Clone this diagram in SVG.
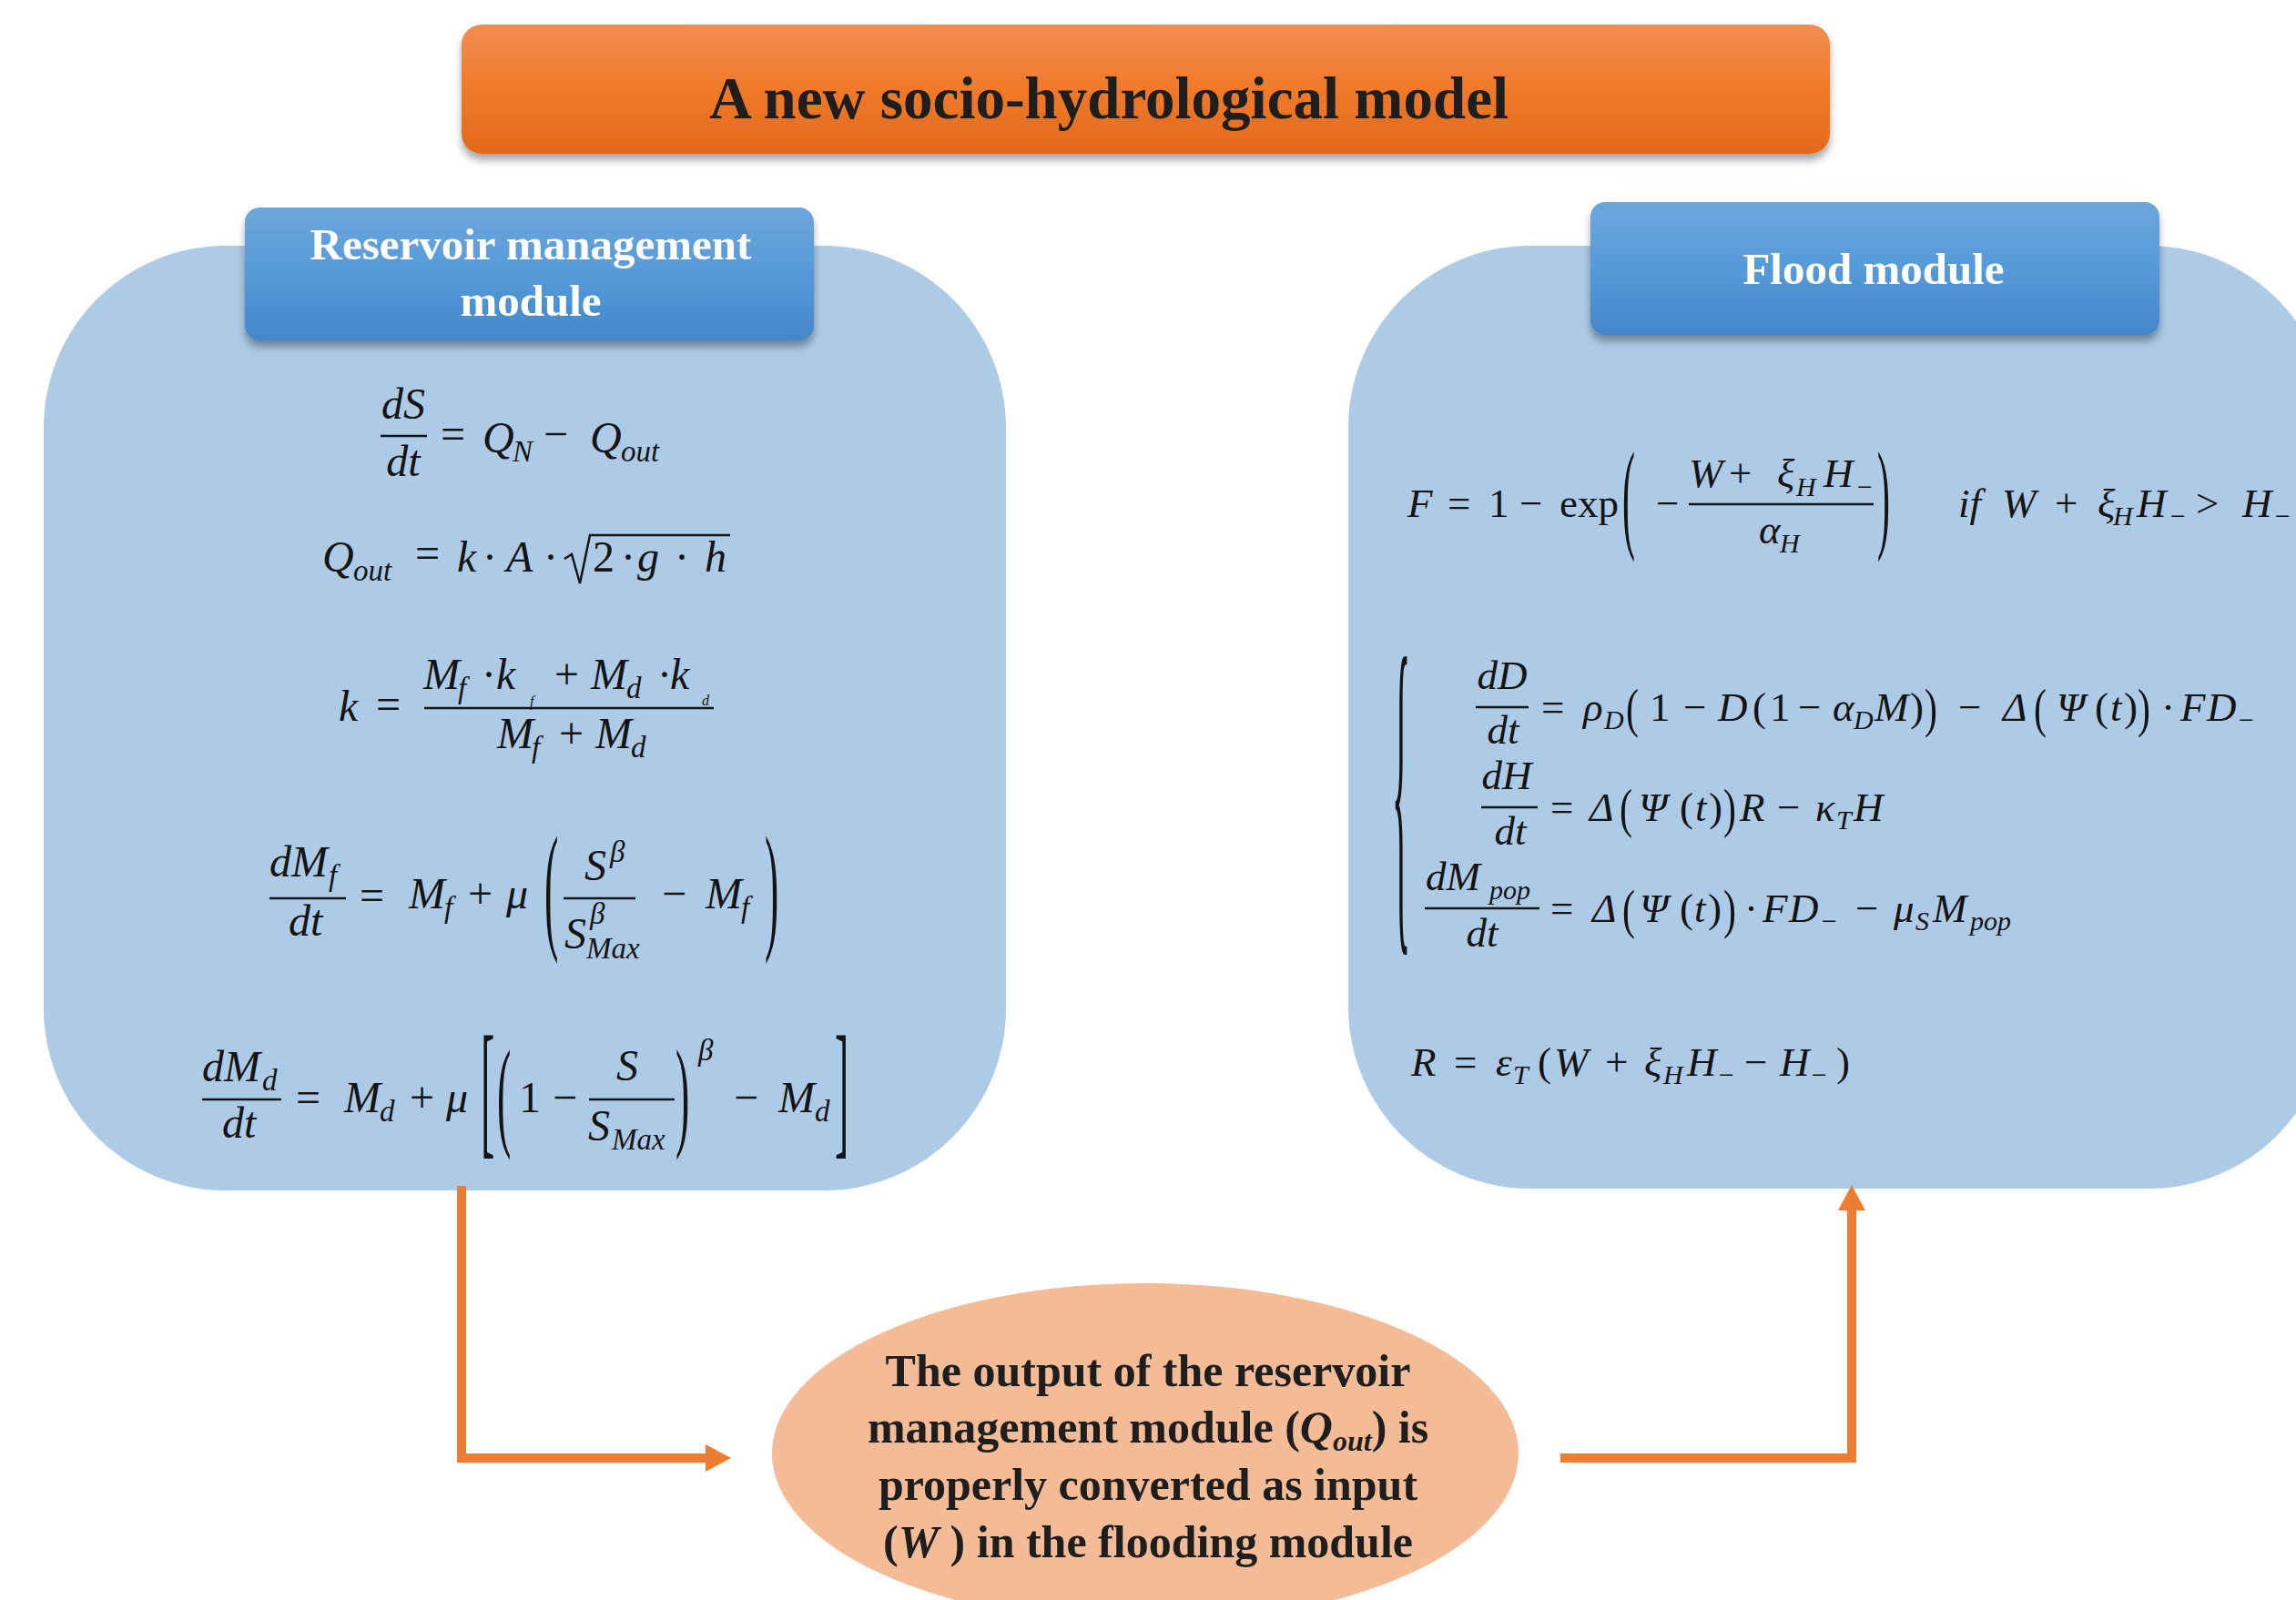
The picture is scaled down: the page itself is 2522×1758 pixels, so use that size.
<svg xmlns="http://www.w3.org/2000/svg" width="2522" height="1758" viewBox="0 0 2522 1758">
<defs>
<linearGradient id="gOrange" x1="0" y1="0" x2="0" y2="1">
<stop offset="0" stop-color="#F28D52"/>
<stop offset="0.5" stop-color="#F07A2A"/>
<stop offset="1" stop-color="#E2691A"/>
</linearGradient>
<linearGradient id="gBlue" x1="0" y1="0" x2="0" y2="1">
<stop offset="0" stop-color="#6EA6DC"/>
<stop offset="0.5" stop-color="#559AD9"/>
<stop offset="1" stop-color="#4387C8"/>
</linearGradient>
<filter id="shadow" x="-5%" y="-10%" width="110%" height="130%">
<feDropShadow dx="0" dy="7" stdDeviation="4" flood-color="#000" flood-opacity="0.35"/>
</filter>
<marker id="arrow" viewBox="0 0 28 30" refX="0" refY="15" markerWidth="28" markerHeight="30" markerUnits="userSpaceOnUse" orient="auto">
<path d="M0,0 L28,15 L0,30 z" fill="#ED7D31"/>
</marker>
<style>
.panel { fill:#ADCBE7; }
.hdr { fill:url(#gBlue); filter:url(#shadow); }
.hdrt { font-family:"Liberation Serif","Times New Roman",serif; font-weight:bold; font-size:49px; fill:#FFFFFF; text-anchor:middle; }
.t { font-family:"Liberation Serif","Times New Roman",serif; fill:#141414; }
.i { font-style:italic; }
.a { font-size:48px; }
.as { font-size:33px; }
.p { font-size:46px; }
.b { font-size:45px; }
.bs { font-size:30px; }
.q { font-size:42px; }
.bar { stroke:#141414; stroke-width:2.5; fill:none; }
.conn { stroke:#ED7D31; stroke-width:10; fill:none; }
.et { font-family:"Liberation Serif","Times New Roman",serif; font-weight:bold; font-size:50px; fill:#1E1E1E; text-anchor:middle; }
</style>
</defs>
<rect width="2522" height="1758" fill="#FFFFFF"/>

<g id="title">
<rect x="507" y="27" width="1503" height="142" rx="22" fill="url(#gOrange)" filter="url(#shadow)"/>
<text x="1218" y="130" font-family="Liberation Serif, Times New Roman, serif" font-weight="bold" font-size="65" fill="#1E1E1E" text-anchor="middle">A new socio-hydrological model</text>
</g>

<g id="reservoir-module">
<rect class="panel" x="48" y="270" width="1057" height="1038" rx="200" ry="200"/>
<rect class="hdr" x="269" y="228" width="625" height="146" rx="16"/>
<text class="hdrt" x="583" y="285">Reservoir management</text>
<text class="hdrt" x="583" y="347">module</text>

<!-- eq1 -->
<text class="t i a" x="443" y="460" text-anchor="middle">dS</text>
<line class="bar" x1="418" y1="479" x2="469" y2="479"/>
<text class="t i a" x="443" y="523" text-anchor="middle">dt</text>
<text class="t a" x="484" y="493">=</text>
<text class="t i a" y="497"><tspan x="530">Q</tspan><tspan class="as" x="563" y="507">N</tspan></text>
<text class="t a" x="597" y="493">−</text>
<text class="t i a" y="497"><tspan x="648">Q</tspan><tspan class="as" x="682" y="507">out</tspan></text>

<!-- eq2 -->
<text class="t i a" y="628"><tspan x="354">Q</tspan><tspan class="as" x="388" y="638">out</tspan></text>
<text class="t a" x="456" y="624">=</text>
<text class="t i a" x="502" y="628">k</text>
<text class="t a" x="530" y="628">·</text>
<text class="t i a" x="556" y="628">A</text>
<text class="t a" x="597" y="628">·</text>
<path class="bar" d="M620,614 L628,609 L637,641 L648,588 L802,588"/>
<text class="t a" x="651" y="628">2</text>
<text class="t a" x="682" y="628">·</text>
<text class="t i a" x="700" y="628">g</text>
<text class="t a" x="741" y="628">·</text>
<text class="t i a" x="774" y="628">h</text>

<!-- eq3 -->
<text class="t i a" x="372" y="792">k</text>
<text class="t a" x="413" y="790">=</text>
<line class="bar" x1="466" y1="778" x2="784" y2="778"/>
<text class="t i a" y="757"><tspan x="465">M</tspan><tspan class="as" x="503" y="767">f</tspan></text>
<text class="t a" x="529" y="757">·</text>
<text class="t i a" x="545" y="757">k</text>
<text class="t i" font-size="16" x="582" y="776">f</text>
<text class="t a" x="609" y="757">+</text>
<text class="t i a" y="757"><tspan x="649">M</tspan><tspan class="as" x="688" y="767">d</tspan></text>
<text class="t a" x="722" y="757">·</text>
<text class="t i a" x="736" y="757">k</text>
<text class="t i" font-size="16" x="771" y="775">d</text>
<text class="t i a" y="822"><tspan x="546">M</tspan><tspan class="as" x="584" y="832">f</tspan></text>
<text class="t a" x="614" y="822">+</text>
<text class="t i a" y="822"><tspan x="654">M</tspan><tspan class="as" x="693" y="832">d</tspan></text>

<!-- eq4 -->
<text class="t i a" y="963"><tspan x="296">dM</tspan><tspan class="as" x="361" y="973">f</tspan></text>
<line class="bar" x1="296" y1="987" x2="380" y2="987"/>
<text class="t i a" x="317" y="1028">dt</text>
<text class="t a" x="395" y="1000">=</text>
<text class="t i a" y="998"><tspan x="449">M</tspan><tspan class="as" x="488" y="1008">f</tspan></text>
<text class="t a" x="514" y="998">+</text>
<text class="t i a" x="556" y="998">μ</text>
<text class="t p" transform="translate(598,1026) scale(1,3.35)">(</text>
<text class="t i a" x="642" y="967">S</text>
<text class="t i as" x="670" y="947">β</text>
<line class="bar" x1="619" y1="987" x2="698" y2="987"/>
<text class="t i a" x="620" y="1042">S</text>
<text class="t i as" x="648" y="1015">β</text>
<text class="t i as" x="644" y="1053">Max</text>
<text class="t a" x="727" y="998">−</text>
<text class="t i a" y="998"><tspan x="775">M</tspan><tspan class="as" x="814" y="1008">f</tspan></text>
<text class="t p" transform="translate(840,1026) scale(1,3.35)">)</text>

<!-- eq5 -->
<text class="t i a" y="1188"><tspan x="222">dM</tspan><tspan class="as" x="288" y="1198">d</tspan></text>
<line class="bar" x1="222" y1="1208" x2="309" y2="1208"/>
<text class="t i a" x="244" y="1250">dt</text>
<text class="t a" x="325" y="1222">=</text>
<text class="t i a" y="1222"><tspan x="378">M</tspan><tspan class="as" x="417" y="1232">d</tspan></text>
<text class="t a" x="450" y="1222">+</text>
<text class="t i a" x="490" y="1222">μ</text>
<text class="t p" transform="translate(528,1251) scale(1,3.56)">[</text>
<text class="t p" transform="translate(546,1246) scale(1,2.9)">(</text>
<text class="t a" x="570" y="1222">1</text>
<text class="t a" x="607" y="1222">−</text>
<text class="t i a" x="677" y="1187">S</text>
<line class="bar" x1="647" y1="1208" x2="741" y2="1208"/>
<text class="t i a" x="646" y="1253">S</text>
<text class="t i as" x="672" y="1263">Max</text>
<text class="t p" transform="translate(742,1246) scale(1,2.9)">)</text>
<text class="t i as" x="767" y="1165">β</text>
<text class="t a" x="806" y="1222">−</text>
<text class="t i a" y="1222"><tspan x="855">M</tspan><tspan class="as" x="895" y="1232">d</tspan></text>
<text class="t p" transform="translate(917,1251) scale(1,3.56)">]</text>
</g>

<g id="flood-module">
<rect class="panel" x="1481" y="270" width="1079" height="1036" rx="200" ry="200"/>
<rect class="hdr" x="1747" y="222" width="625" height="146" rx="16"/>
<text class="hdrt" x="2058" y="312">Flood module</text>

<!-- F equation -->
<text class="t i b" x="1546" y="568">F</text>
<text class="t b" x="1590" y="568">=</text>
<text class="t b" x="1635" y="568">1</text>
<text class="t b" x="1669" y="568">−</text>
<text class="t b" x="1713" y="568">exp</text>
<text class="t q" transform="translate(1782,589) scale(1,3.2)">(</text>
<text class="t b" x="1819" y="568">−</text>
<text class="t i b" x="1855" y="535">W</text>
<text class="t b" x="1899" y="535">+</text>
<text class="t i b" y="535"><tspan x="1952">ξ</tspan><tspan class="bs" x="1973" y="545">H</tspan><tspan x="2003" y="535">H</tspan><tspan class="bs" x="2038" y="545">−</tspan></text>
<line class="bar" x1="1855" y1="554" x2="2058" y2="554"/>
<text class="t i b" y="597"><tspan x="1932">α</tspan><tspan class="bs" x="1955" y="607">H</tspan></text>
<text class="t q" transform="translate(2062,589) scale(1,3.2)">)</text>
<text class="t i b" y="568"><tspan x="2151">if</tspan><tspan x="2199">W</tspan></text>
<text class="t b" x="2257" y="568">+</text>
<text class="t i b" y="568"><tspan x="2304">ξ</tspan><tspan class="bs" x="2321" y="577">H</tspan><tspan x="2347" y="568">H</tspan><tspan class="bs" x="2382" y="577">−</tspan></text>
<text class="t b" x="2412" y="568">&gt;</text>
<text class="t i b" y="568"><tspan x="2463">H</tspan><tspan class="bs" x="2497" y="577">−</tspan></text>

<!-- system -->
<text class="t q" transform="translate(1529,996) scale(1,9.43)">{</text>

<text class="t i b" x="1650" y="757" text-anchor="middle">dD</text>
<line class="bar" x1="1621" y1="777" x2="1679" y2="777"/>
<text class="t i b" x="1651" y="817" text-anchor="middle">dt</text>
<text class="t b" x="1693" y="792">=</text>
<text class="t i b" y="792"><tspan x="1739">ρ</tspan><tspan class="bs" x="1762" y="801">D</tspan></text>
<text class="t q" transform="translate(1786,798) scale(1,1.4)">(</text>
<text class="t b" x="1812" y="792">1</text>
<text class="t b" x="1849" y="792">−</text>
<text class="t i b" x="1887" y="792">D</text>
<text class="t b" x="1925" y="792">(</text>
<text class="t b" x="1944" y="792">1</text>
<text class="t b" x="1975" y="792">−</text>
<text class="t i b" y="792"><tspan x="2013">α</tspan><tspan class="bs" x="2036" y="801">D</tspan><tspan x="2059" y="792">M</tspan></text>
<text class="t b" x="2098" y="792">)</text>
<text class="t q" transform="translate(2114,798) scale(1,1.4)">)</text>
<text class="t b" x="2151" y="792">−</text>
<text class="t i b" x="2200" y="792">Δ</text>
<text class="t q" transform="translate(2234,798) scale(1,1.4)">(</text>
<text class="t i b" x="2259" y="792">Ψ</text>
<text class="t b" x="2301" y="792">(</text>
<text class="t i b" x="2318" y="792">t</text>
<text class="t b" x="2333" y="792">)</text>
<text class="t q" transform="translate(2348,798) scale(1,1.4)">)</text>
<text class="t b" x="2374" y="792">·</text>
<text class="t i b" y="792"><tspan x="2395">F</tspan><tspan x="2424">D</tspan><tspan class="bs" x="2457" y="801">−</tspan></text>

<text class="t i b" x="1655" y="867" text-anchor="middle">dH</text>
<line class="bar" x1="1627" y1="887" x2="1689" y2="887"/>
<text class="t i b" x="1659" y="928" text-anchor="middle">dt</text>
<text class="t b" x="1703" y="902">=</text>
<text class="t i b" x="1746" y="902">Δ</text>
<text class="t q" transform="translate(1779,908) scale(1,1.4)">(</text>
<text class="t i b" x="1800" y="902">Ψ</text>
<text class="t b" x="1845" y="902">(</text>
<text class="t i b" x="1862" y="902">t</text>
<text class="t b" x="1877" y="902">)</text>
<text class="t q" transform="translate(1893,908) scale(1,1.4)">)</text>
<text class="t i b" x="1911" y="902">R</text>
<text class="t b" x="1952" y="902">−</text>
<text class="t i b" y="902"><tspan x="1994">κ</tspan><tspan class="bs" x="2017" y="911">T</tspan><tspan x="2036" y="902">H</tspan></text>

<text class="t i b" y="978"><tspan x="1566">dM</tspan><tspan class="bs" x="1636" y="988">pop</tspan></text>
<line class="bar" x1="1565" y1="998" x2="1691" y2="998"/>
<text class="t i b" x="1628" y="1040" text-anchor="middle">dt</text>
<text class="t b" x="1703" y="1013">=</text>
<text class="t i b" x="1749" y="1013">Δ</text>
<text class="t q" transform="translate(1782,1019) scale(1,1.4)">(</text>
<text class="t i b" x="1801" y="1013">Ψ</text>
<text class="t b" x="1845" y="1013">(</text>
<text class="t i b" x="1861" y="1013">t</text>
<text class="t b" x="1876" y="1013">)</text>
<text class="t q" transform="translate(1893,1019) scale(1,1.4)">)</text>
<text class="t b" x="1916" y="1013">·</text>
<text class="t i b" y="1013"><tspan x="1936">F</tspan><tspan x="1965">D</tspan><tspan class="bs" x="1999" y="1022">−</tspan></text>
<text class="t b" x="2038" y="1013">−</text>
<text class="t i b" y="1013"><tspan x="2080">μ</tspan><tspan class="bs" x="2104" y="1022">S</tspan><tspan x="2123" y="1013">M</tspan><tspan class="bs" x="2164" y="1022">pop</tspan></text>

<!-- R equation -->
<text class="t i b" x="1550" y="1182">R</text>
<text class="t b" x="1597" y="1182">=</text>
<text class="t i b" y="1182"><tspan x="1643">ε</tspan><tspan class="bs" x="1662" y="1191">T</tspan></text>
<text class="t b" x="1689" y="1182">(</text>
<text class="t i b" x="1707" y="1182">W</text>
<text class="t b" x="1763" y="1182">+</text>
<text class="t i b" y="1182"><tspan x="1806">ξ</tspan><tspan class="bs" x="1827" y="1191">H</tspan><tspan x="1853" y="1182">H</tspan><tspan class="bs" x="1886" y="1191">−</tspan></text>
<text class="t b" x="1916" y="1182">−</text>
<text class="t i b" y="1182"><tspan x="1955">H</tspan><tspan class="bs" x="1988" y="1191">−</tspan></text>
<text class="t b" x="2017" y="1182">)</text>
</g>

<g id="converter">
<ellipse cx="1258" cy="1597" rx="410" ry="187" fill="#F4BB97"/>
<text class="et" x="1261" y="1523">The output of the reservoir</text>
<text class="et" x="1261" y="1585">management module (<tspan font-style="italic">Q</tspan><tspan font-style="italic" font-size="32" dy="9">out</tspan><tspan dy="-9">) is</tspan></text>
<text class="et" x="1261" y="1648">properly converted as input</text>
<text class="et" x="1261" y="1711">(<tspan font-style="italic">W</tspan> ) in the flooding module</text>
</g>

<g id="connectors">
<path class="conn" d="M507,1303 V1602 H775" marker-end="url(#arrow)"/>
<path class="conn" d="M1714,1602 H2034 V1330" marker-end="url(#arrow)"/>
</g>
</svg>
